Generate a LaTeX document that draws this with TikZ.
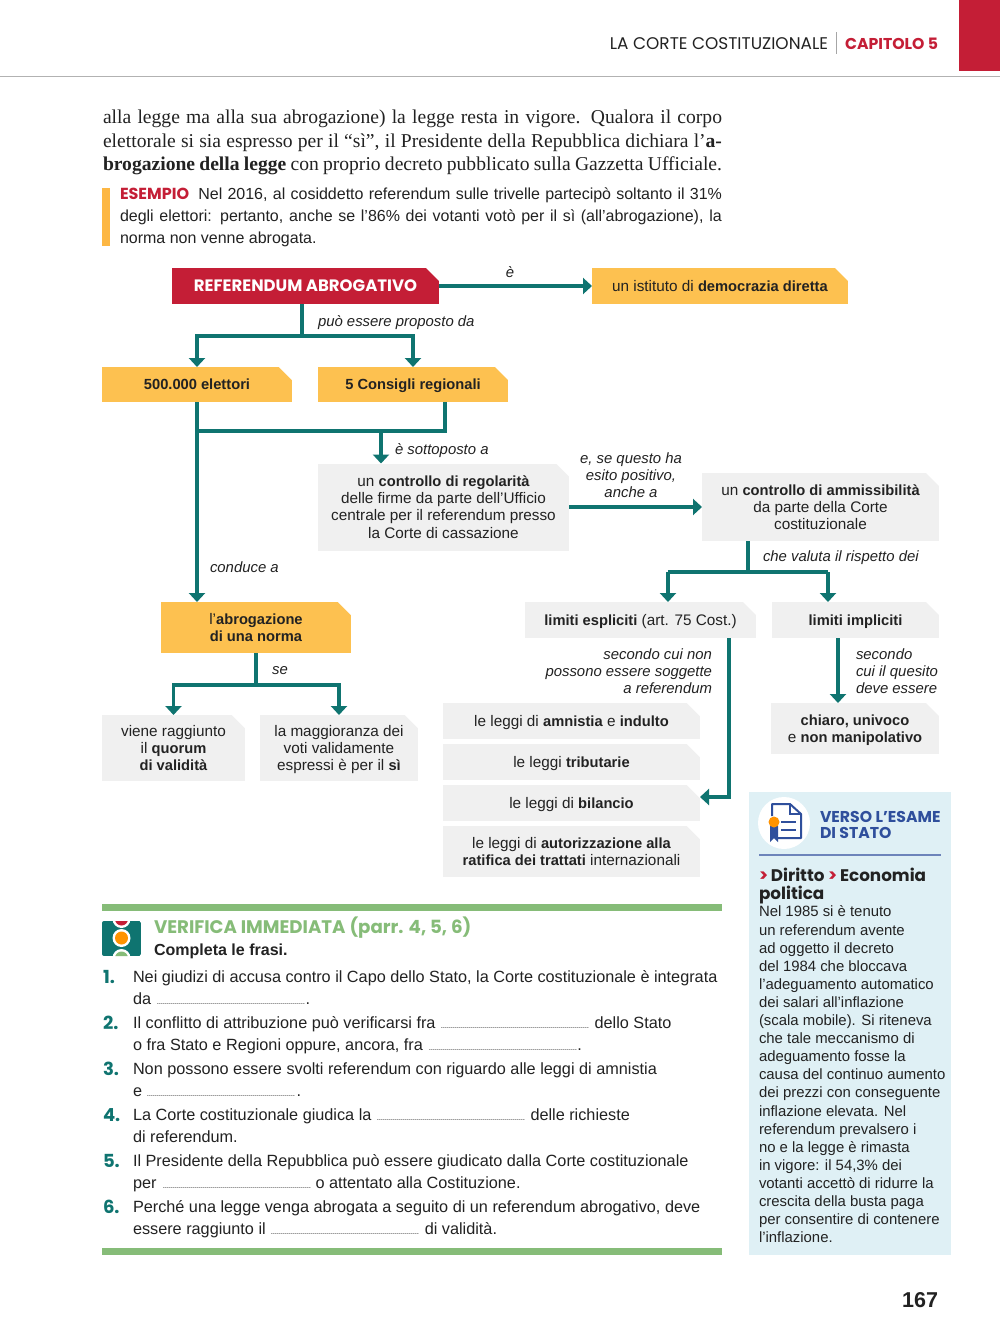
\documentclass[tikz,border=0pt]{standalone}
\usepackage{fontspec}
\setmainfont{Liberation Sans}[BoldFeatures={Scale=0.96}]
\newfontfamily\paperfont{Liberation Serif}
\newfontfamily\headfont{Poppins}
\usetikzlibrary{arrows.meta, calc}
\definecolor{RedBook}{HTML}{C41E36}
\definecolor{Teal}{HTML}{0F7470}
\definecolor{AmberBox}{HTML}{FDC150}
\definecolor{GrayBox}{HTML}{F0F0F0}
\definecolor{GreenBar}{HTML}{86BC78}
\definecolor{SkyBox}{HTML}{DFF0F5}
\definecolor{BlueHead}{HTML}{2F4F9C}
\definecolor{InkText}{HTML}{222222}
\newcommand{\lacuna}{{\fontsize{8}{8}\selectfont\leaders\hbox to 2pt{\hss.\hss}\hskip 150pt\relax}}
\newcommand{\jline}[2]{\makebox[#1pt][s]{#2}}

\begin{document}
\begin{tikzpicture}[
    x=1pt, y=-1pt,
    every node/.style={inner sep=0pt, outer sep=0pt, text=InkText},
    wire/.style={line width=3.1pt, color=Teal},
    arr/.style={wire, -{Triangle[width=16pt, length=9pt]}},
    tag/.style={rectangle, fill=#1, minimum width=\tagw, minimum height=\tagh, text depth=-1pt, align=center, font=\fontsize{15.3}{17.2}\selectfont,
      path picture={\fill[white] ($(path picture bounding box.north east)+(-13pt,0pt)$) -- (path picture bounding box.north east) -- ($(path picture bounding box.north east)+(0pt,-13pt)$) -- cycle;}},
    lab/.style={align=center, font=\fontsize{14.9}{17}\selectfont\itshape},
    esnum/.style={anchor=base west, font=\headfont\bfseries\fontsize{18}{20}\selectfont, text=Teal},
    esitem/.style={anchor=north west, align=left, font=\fontsize{16.25}{22}\selectfont},
]
\def\tagw{100pt}\def\tagh{30pt}
\useasboundingbox (0,0) rectangle (1000,1333);
\fill[white] (0,0) rectangle (1000,1333);

% ---- Page header ----
\fill[RedBook] (959,0) rectangle (1000,71);
\draw[color=black!30, line width=1pt] (0,76.5) -- (1000,76.5);
\draw[color=black!35, line width=0.7pt] (836.5,32) -- (836.5,54);
\node[anchor=east, font=\headfont\fontsize{16.9}{18}\selectfont] (corte) at (828,43.5) {LA CORTE COSTITUZIONALE};
\node[anchor=east, font=\headfont\bfseries\fontsize{15.7}{18}\selectfont, text=RedBook] (cap) at (938,43.5) {CAPITOLO 5};

% ---- Running text ----
\node[anchor=west, font=\paperfont\fontsize{19.6}{24}\selectfont] (riga1) at (103,119) {\jline{619}{alla legge ma alla sua abrogazione) la legge resta in vigore. Qualora il corpo}};
\node[anchor=west, font=\paperfont\fontsize{19.6}{24}\selectfont] (riga2) at (103,143) {\jline{619}{elettorale si sia espresso per il “sì”, il Presidente della Repubblica dichiara l’\textbf{a-}}};
\node[anchor=west, font=\paperfont\fontsize{19.6}{24}\selectfont] (riga3) at (103,166) {\jline{619}{\textbf{brogazione della legge} con proprio decreto pubblicato sulla Gazzetta Ufficiale.}};

% ---- Esempio ----
\fill[color=AmberBox!85!orange] (102,188) rectangle (110,246);
\node[anchor=west, font=\fontsize{16}{17}\selectfont] (es1) at (120,195) {\jline{602}{{\headfont\bfseries\fontsize{16}{17}\selectfont\color{RedBook}ESEMPIO}\hspace{4pt} Nel 2016, al cosiddetto referendum sulle trivelle partecipò soltanto il 31\%}};
\node[anchor=west, font=\fontsize{16}{17}\selectfont] (es2) at (120,217) {\jline{602}{degli elettori: pertanto, anche se l’86\% dei votanti votò per il sì (all’abrogazione), la}};
\node[anchor=west, font=\fontsize{16}{17}\selectfont] (es3) at (120,239) {norma non venne abrogata.};

% ---- Referendum ----
\def\tagw{267pt}\def\tagh{36pt}
\node[tag=RedBook, font=\headfont\bfseries\fontsize{16.5}{17}\selectfont, text=white] (ref) at (305.5,286) {REFERENDUM ABROGATIVO};
\def\tagw{256pt}
\node[tag=AmberBox] (ist) at (720,286) {un istituto di \textbf{democrazia diretta}};

% ---- Proponenti ----
\def\tagw{190pt}\def\tagh{35pt}
\node[tag=AmberBox, font=\fontsize{15.3}{17}\selectfont\bfseries] (elett) at (197,384.5) {500.000 elettori};
\node[tag=AmberBox, font=\fontsize{15.3}{17}\selectfont\bfseries] (cons) at (413,384.5) {5 Consigli regionali};

% ---- Controlli ----
\def\tagw{251pt}\def\tagh{87pt}
\node[tag=GrayBox] (reg) at (443.5,507) {un \textbf{controllo di regolarità}\\delle firme da parte dell’Ufficio\\centrale per il referendum presso\\la Corte di cassazione};
\def\tagw{237pt}\def\tagh{68pt}
\node[tag=GrayBox] (amm) at (820.5,507) {un \textbf{controllo di ammissibilità}\\da parte della Corte\\costituzionale};

% ---- Abrogazione ----
\def\tagw{190pt}\def\tagh{51pt}
\node[tag=AmberBox] (abrog) at (256,627.5) {l’\textbf{abrogazione}\\\textbf{di una norma}};
\def\tagw{143pt}\def\tagh{66pt}
\node[tag=GrayBox] (viene) at (173.5,748) {viene raggiunto\\il \textbf{quorum}\\\textbf{di validità}};
\def\tagw{158pt}
\node[tag=GrayBox] (magg) at (339,748) {la maggioranza dei\\voti validamente\\espressi è per il \textbf{sì}};

% ---- Limiti ----
\def\tagw{231pt}\def\tagh{36pt}
\node[tag=GrayBox] (espl) at (640.5,620) {\textbf{limiti espliciti} (art. 75 Cost.)};
\def\tagw{167pt}
\node[tag=GrayBox, font=\fontsize{15.3}{17}\selectfont\bfseries] (impl) at (855.5,620) {limiti impliciti};
\def\tagw{168pt}\def\tagh{51pt}
\node[tag=GrayBox] (chi) at (855,728.5) {\textbf{chiaro, univoco}\\e \textbf{non manipolativo}};

% ---- Leggi ----
\def\tagw{257pt}\def\tagh{36pt}
\node[tag=GrayBox] (amn) at (571.5,721) {le leggi di \textbf{amnistia} e \textbf{indulto}};
\node[tag=GrayBox] (trib) at (571.5,762) {le leggi \textbf{tributarie}};
\node[tag=GrayBox] (bil) at (571.5,803) {le leggi di \textbf{bilancio}};
\def\tagh{51pt}
\node[tag=GrayBox] (aut) at (571.5,851.5) {le leggi di \textbf{autorizzazione alla}\\\textbf{ratifica dei trattati} internazionali};

% ---- Junctions ----
\coordinate (prop) at (302,336);
\coordinate (giunz) at (445,431);
\coordinate (sott) at (381,431);
\coordinate (val) at (748,572);
\coordinate (valL) at (668,572);
\coordinate (valR) at (828,572);
\coordinate (se) at (256,685);
\coordinate (rit) at (729,797);
\coordinate (sec) at (838,670);

% ---- Arrows ----
\draw[arr] (ref.east) -- (ist.west);
\draw[wire] (ref.south -| prop) -- (prop);
\draw[arr] (prop) -| (elett.north);
\draw[arr] (prop) -| (cons.north);
\draw[arr] (elett.south) -- (elett.south |- abrog.north);
\draw[wire] (elett.south |- giunz) -- (giunz) -- (giunz |- cons.south);
\draw[arr] (sott) -- (sott |- reg.north);
\draw[arr] (reg.east) -- (amm.west);
\draw[wire] (amm.south -| val) -- (val);
\draw[wire] (valL) -- (valR);
\draw[arr] (valL) -- (valL |- espl.north);
\draw[arr] (valR) -- (valR |- impl.north);
\draw[wire] (abrog.south) -- (se);
\draw[arr] (se) -| (viene.north);
\draw[arr] (se) -| (magg.north);
\draw[arr] (rit |- espl.south) -- (rit) -- (rit -| bil.east);
\draw[arr] (sec |- impl.south) -- (sec |- chi.north);

% ---- Arrow labels ----
\node[lab] (lbE) at (510,272) {è};
\node[lab, anchor=west] (lbProp) at (318,323) {può essere proposto da};
\node[lab, anchor=west] (lbSott) at (395,451) {è sottoposto a};
\node[lab] (lbEsito) at (631,475) {e, se questo ha\\esito positivo,\\anche a};
\node[lab, anchor=west] (lbCond) at (210,567) {conduce a};
\node[lab, anchor=west] (lbVal) at (763,558) {che valuta il rispetto dei};
\node[lab] (lbSe) at (280,671) {se};
\node[lab, anchor=east, align=right] (lbCui) at (712,671) {secondo cui non\\possono essere soggette\\a referendum};
\node[lab, anchor=west, align=left] (lbQues) at (856,671) {secondo\\cui il quesito\\deve essere};

% ---- Verifica immediata ----
\fill[GreenBar] (102,904) rectangle (722,911);
\fill[GreenBar] (102,1248) rectangle (722,1255);
\begin{scope}
  \clip[rounded corners=2pt] (102,921) rectangle (141,956);
  \fill[Teal] (102,921) rectangle (141,956);
  \fill[white] (121.5,919) circle (9);
  \fill[white] (121.5,938) circle (9);
  \fill[white] (121.5,958) circle (9);
  \fill[RedBook] (121.5,919) circle (6.5);
  \fill[orange!85!yellow] (121.5,938) circle (6.5);
  \fill[GreenBar] (121.5,958) circle (6.5);
\end{scope}
\node[anchor=base west, font=\headfont\bfseries\fontsize{18.2}{20}\selectfont, text=GreenBar] (verif) at (154,933) {VERIFICA IMMEDIATA (parr. 4, 5, 6)};
\node[anchor=base west, font=\fontsize{16.7}{18}\selectfont\bfseries] (compl) at (154,955) {Completa le frasi.};

\node[esnum] (n1) at (103,983) {1.};
\node[esitem] (e1) at (133,971) {Nei giudizi di accusa contro il Capo dello Stato, la Corte costituzionale è integrata\\da \lacuna.};
\node[esnum] (n2) at (103,1029) {2.};
\node[esitem] (e2) at (133,1017) {Il conflitto di attribuzione può verificarsi fra \lacuna\ dello Stato\\o fra Stato e Regioni oppure, ancora, fra \lacuna.};
\node[esnum] (n3) at (103,1075) {3.};
\node[esitem] (e3) at (133,1063) {Non possono essere svolti referendum con riguardo alle leggi di amnistia\\e \lacuna.};
\node[esnum] (n4) at (103,1121) {4.};
\node[esitem] (e4) at (133,1109) {La Corte costituzionale giudica la \lacuna\ delle richieste\\di referendum.};
\node[esnum] (n5) at (103,1167) {5.};
\node[esitem] (e5) at (133,1155) {Il Presidente della Repubblica può essere giudicato dalla Corte costituzionale\\per \lacuna\ o attentato alla Costituzione.};
\node[esnum] (n6) at (103,1213) {6.};
\node[esitem] (e6) at (133,1201) {Perché una legge venga abrogata a seguito di un referendum abrogativo, deve\\essere raggiunto il \lacuna\ di validità.};

% ---- Verso l'esame ----
\fill[SkyBox] (749,792) rectangle (951,1255);
\fill[white] (784,823) circle (26);
\draw[color=BlueHead, line width=2pt, line join=round] (772,816) -- (772,804) -- (790,804) -- (801,814) -- (801,838) -- (778,838);
\draw[color=BlueHead, line width=2pt] (790,804) -- (790,814) -- (801,814);
\draw[color=BlueHead, line width=1.6pt] (781,822) -- (796,822) (781,830) -- (796,830);
\fill[BlueHead] (770,826) -- (778,826) -- (778,842) -- (774,838) -- (770,842) -- cycle;
\fill[orange!85!yellow] (774,822) circle (5.5);
\node[anchor=base west, align=left, font=\headfont\bfseries\fontsize{15.7}{16}\selectfont, text=BlueHead] (verso) at (820,822) {VERSO L’ESAME};
\node[anchor=base west, font=\headfont\bfseries\fontsize{15.7}{16}\selectfont, text=BlueHead] (stato) at (820,838) {DI STATO};
\draw[color=BlueHead!70, line width=1.5pt] (759,855) -- (941,855);
\node[anchor=north west, align=left, font=\headfont\bfseries\fontsize{16.8}{18}\selectfont] (dir) at (759,868) {{\color{RedBook}>}\,Diritto {\color{RedBook}>}\,Economia\\politica};
\node[anchor=north west, align=left, font=\fontsize{14.9}{18.1}\selectfont] (side) at (759,906) {Nel 1985 si è tenuto\\un referendum avente\\ad oggetto il decreto\\del 1984 che bloccava\\l’adeguamento automatico\\dei salari all’inflazione\\(scala mobile). Si riteneva\\che tale meccanismo di\\adeguamento fosse la\\causa del continuo aumento\\dei prezzi con conseguente\\inflazione elevata. Nel\\referendum prevalsero i\\no e la legge è rimasta\\in vigore: il 54,3\% dei\\votanti accettò di ridurre la\\crescita della busta paga\\per consentire di contenere\\l’inflazione.};

% ---- Page number ----
\node[anchor=east, font=\fontsize{22.4}{24}\selectfont\bfseries] (pag) at (938,1300) {167};

\end{tikzpicture}
\end{document}
